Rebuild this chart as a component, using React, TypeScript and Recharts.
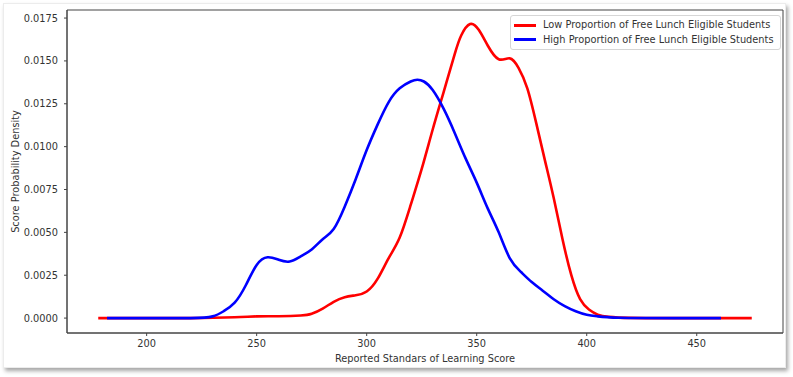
import React from 'react';
import { LineChart, Line, XAxis, YAxis, Label, ReferenceArea } from 'recharts';

const lowScores = [178, 200, 220, 240, 250, 260, 270, 275, 280, 285, 290, 295, 300, 305, 310, 315, 320, 325, 330, 335, 340, 343, 347, 351, 355, 360, 365, 369, 373, 377, 381, 385, 389, 393, 397, 401, 405, 410, 420, 440, 475];
const lowDensity = [0, 0, 0, 0.00005, 0.0001, 0.00011, 0.00015, 0.00025, 0.00055, 0.00095, 0.00122, 0.00133, 0.00155, 0.0023, 0.0035, 0.0047, 0.0066, 0.0087, 0.011, 0.0132, 0.0154, 0.0165, 0.01715, 0.0168, 0.0159, 0.0151, 0.01515, 0.0146, 0.0134, 0.0114, 0.0092, 0.007, 0.0046, 0.0025, 0.0011, 0.0005, 0.0002, 0.00007, 0.00001, 0, 0];

const highScores = [182, 200, 220, 230, 235, 240, 245, 250, 255, 260, 265, 270, 275, 280, 285, 290, 295, 300, 305, 310, 315, 320, 323, 326, 330, 335, 340, 345, 350, 355, 360, 365, 370, 375, 380, 385, 390, 395, 400, 405, 415, 440, 461];
const highDensity = [0, 0, 0, 0.0001, 0.0004, 0.0009, 0.0019, 0.0031, 0.00355, 0.0034, 0.0033, 0.0036, 0.004, 0.0046, 0.0052, 0.0065, 0.0081, 0.0098, 0.0113, 0.0126, 0.0134, 0.0138, 0.0139, 0.0138, 0.0133, 0.0122, 0.0108, 0.0093, 0.0079, 0.0064, 0.005, 0.0035, 0.0027, 0.0021, 0.0016, 0.0011, 0.0007, 0.0004, 0.0002, 0.0001, 0.00002, 0, 0];

const xTicks = [200, 250, 300, 350, 400, 450];
const yTicks = [0, 0.0025, 0.005, 0.0075, 0.01, 0.0125, 0.015, 0.0175];

const seriesNames = ['Low Proportion of Free Lunch Eligible Students', 'High Proportion of Free Lunch Eligible Students'];
const seriesColors = ['#ff0000', '#0000ff'];

const lowData = lowScores.map((x, i) => ({ x, y: lowDensity[i] }));
const highData = highScores.map((x, i) => ({ x, y: highDensity[i] }));

const X_DOMAIN: [number, number] = [163.8, 489.2];
const Y_DOMAIN: [number, number] = [-0.00087, 0.01797];

const FONT = '"DejaVu Sans", sans-serif';
const FS = 9.8;
const tickStyle = { fontSize: FS, fill: '#333', fontFamily: FONT };

const LegendBox = () => (
  <div
    style={{
      position: 'absolute',
      left: 510,
      top: 15,
      border: '1px solid #d6d6d6',
      borderRadius: 3,
      background: 'rgba(255,255,255,0.85)',
      padding: '2px 6px 2px 3px',
      fontFamily: FONT,
      fontSize: FS,
      color: '#333',
      lineHeight: '14.5px',
    }}
  >
    {seriesNames.map((n, i) => (
      <div key={n} style={{ display: 'flex', alignItems: 'center', whiteSpace: 'nowrap' }}>
        <span style={{ display: 'inline-block', width: 22, height: 3, background: seriesColors[i], marginRight: 7 }} />
        <span>{n}</span>
      </div>
    ))}
  </div>
);

export default function App() {
  return (
    <div style={{ position: 'absolute', left: 0, top: 0, width: 793, height: 377, background: '#fff' }}>
      <div
        style={{
          position: 'absolute',
          left: 3,
          top: 3,
          width: 781,
          height: 363,
          background: '#fff',
          border: '1px solid #ececec',
          boxShadow: '2px 3px 4px rgba(0,0,0,0.35)',
        }}
      />
      <div style={{ position: 'absolute', left: 0, top: 0 }}>
        <LineChart width={793} height={377} margin={{ top: 10, right: 10, bottom: 0, left: 0 }}>
          <XAxis
            dataKey="x"
            type="number"
            domain={X_DOMAIN}
            ticks={xTicks}
            allowDataOverflow
            tick={tickStyle}
            tickSize={3}
            tickMargin={4}
            height={44}
            stroke="#444"
            tickLine={{ stroke: '#444' }}
          >
            <Label
              value="Reported Standars of Learning Score"
              position="insideBottom"
              offset={15}
              style={{ fontSize: FS, fill: '#333', fontFamily: FONT }}
            />
          </XAxis>
          <YAxis
            type="number"
            domain={Y_DOMAIN}
            ticks={yTicks}
            allowDataOverflow
            tickFormatter={(v: number) => v.toFixed(4)}
            tick={tickStyle}
            tickSize={3}
            tickMargin={6}
            width={67}
            stroke="#444"
            tickLine={{ stroke: '#444' }}
          >
            <Label
              content={(props: any) => {
                const vb = props.viewBox || { x: 0, y: 0, width: 0, height: 0 };
                const cx = vb.x + 15;
                const cy = vb.y + vb.height / 2;
                return (
                  <text
                    x={cx}
                    y={cy}
                    transform={`rotate(-90, ${cx}, ${cy})`}
                    textAnchor="middle"
                    dominantBaseline="central"
                    style={{ fontSize: FS, fill: '#333', fontFamily: FONT }}
                  >
                    Score Probability Density
                  </text>
                );
              }}
            />
          </YAxis>
          <ReferenceArea
            x1={X_DOMAIN[0]}
            x2={X_DOMAIN[1]}
            y1={Y_DOMAIN[0]}
            y2={Y_DOMAIN[1]}
            fill="none"
            fillOpacity={0}
            stroke="#444"
            strokeWidth={1}
            ifOverflow="visible"
          />
          <Line
            data={lowData}
            dataKey="y"
            name={seriesNames[0]}
            type="natural"
            stroke={seriesColors[0]}
            strokeWidth={2.6}
            dot={false}
            isAnimationActive={false}
          />
          <Line
            data={highData}
            dataKey="y"
            name={seriesNames[1]}
            type="natural"
            stroke={seriesColors[1]}
            strokeWidth={2.6}
            dot={false}
            isAnimationActive={false}
          />
        </LineChart>
      </div>
      <LegendBox />
    </div>
  );
}
